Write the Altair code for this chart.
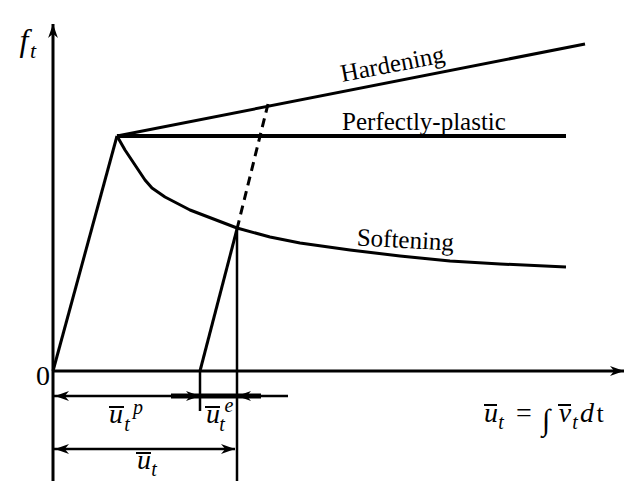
import altair as alt
import pandas as pd

# ---- curve data (schematic coordinates, image-like units) ----
elastic_x = [53, 117]
elastic_y = [371, 136]
plastic_x = [117, 566]
plastic_y = [136, 136]
hard_x = [117, 585]
hard_y = [136, 44]
soft_x = [117, 125, 135, 145, 152, 165, 190, 237, 270, 300, 350, 400, 450, 500, 566]
soft_y = [136, 150, 165, 180, 188, 197, 210, 228, 237, 243, 250, 256, 261, 264, 267]
unload_x = [200, 237]
unload_y = [371, 229]
dash_x = [237, 268]
dash_y = [229, 104]

# axes and dimension lines: (x1, y1, x2, y2)
axis_segs = [(53, 24, 53, 489), (53, 371, 624, 371)]
thin_segs = [(237, 229, 237, 489), (200, 371, 200, 411), (53, 396, 288, 396), (53, 449, 235, 449)]
thick_segs = [(171, 396, 261, 396)]
overbars = [(109, 407, 124, 407), (205, 407, 220, 407), (136, 453, 151, 453),
            (484, 405, 497, 405), (558, 405, 571, 405)]

# arrowheads: tip x, tip y, direction angle
arrow_x = [53, 624, 55, 200, 237, 55, 235]
arrow_y = [24, 371, 396, 396, 396, 449, 449]
arrow_a = [270, 0, 180, 0, 180, 180, 0]

# labels
norm_text = ["Hardening", "Perfectly-plastic", "Softening", "0", "=", "\u222b", "t"]
norm_x = [394, 424, 405, 43, 524, 546, 600]
norm_y = [72, 130, 248, 385, 422, 430, 422]
norm_size = [25, 25, 25, 28, 28, 30, 26]
norm_angle = [349, 0, 3, 0, 0, 0, 0]

ital_text = ["f", "t", "u", "t", "p", "u", "t", "e", "u", "t", "u", "t", "v", "t", "d"]
ital_x = [24, 33, 116, 127, 138, 213, 222, 229, 144, 154, 491, 501, 565, 575, 587]
ital_y = [51, 58, 423, 431, 414, 423, 431, 412, 469, 476, 422, 429, 422, 429, 422]
ital_size = [32, 22, 28, 20, 20, 28, 20, 20, 28, 20, 28, 20, 28, 20, 28]

XS = alt.Scale(domain=[8, 625])
YS = alt.Scale(domain=[8, 481], reverse=True)
FONT = "Liberation Serif"


def line_layer(xs, ys, width, dash=None):
    df = pd.DataFrame({"x": xs, "y": ys, "o": list(range(len(xs)))})
    kw = dict(color="black", strokeWidth=width, strokeCap="butt", strokeJoin="round")
    if dash:
        kw["strokeDash"] = dash
    return alt.Chart(df).mark_line(**kw).encode(
        x=alt.X("x:Q", scale=XS, axis=None),
        y=alt.Y("y:Q", scale=YS, axis=None),
        order="o:Q",
    )


def seg_layer(segs, width):
    df = pd.DataFrame(segs, columns=["x1", "y1", "x2", "y2"])
    return alt.Chart(df).mark_rule(color="black", strokeWidth=width, strokeCap="butt").encode(
        x=alt.X("x1:Q", scale=XS, axis=None),
        y=alt.Y("y1:Q", scale=YS, axis=None),
        x2="x2:Q",
        y2="y2:Q",
    )


def text_layer(texts, xs, ys, sizes, style, angles=None):
    df = pd.DataFrame({"t": texts, "x": xs, "y": ys, "s": sizes,
                       "a": angles if angles else [0] * len(texts)})
    return alt.Chart(df).mark_text(font=FONT, fontStyle=style, color="black",
                                   align="center", baseline="alphabetic").encode(
        x=alt.X("x:Q", scale=XS, axis=None),
        y=alt.Y("y:Q", scale=YS, axis=None),
        text="t:N",
        size=alt.Size("s:Q", scale=None),
        angle=alt.Angle("a:Q", scale=None),
    )


arrow_df = pd.DataFrame({"x": arrow_x, "y": arrow_y, "a": arrow_a})
arrows = alt.Chart(arrow_df).mark_point(
    shape="M0,0 L-2,-0.7 L-1.4,0 L-2,0.7 Z", filled=True, color="black", opacity=1, size=196
).encode(
    x=alt.X("x:Q", scale=XS, axis=None),
    y=alt.Y("y:Q", scale=YS, axis=None),
    angle=alt.Angle("a:Q", scale=None),
)

chart = alt.layer(
    seg_layer(axis_segs, 3),
    seg_layer(thin_segs, 2.5),
    seg_layer(thick_segs, 5),
    seg_layer(overbars, 2),
    line_layer(elastic_x, elastic_y, 3),
    line_layer(plastic_x, plastic_y, 4),
    line_layer(hard_x, hard_y, 3),
    line_layer(soft_x, soft_y, 3),
    line_layer(unload_x, unload_y, 3),
    line_layer(dash_x, dash_y, 3, dash=[9, 6]),
    arrows,
    text_layer(norm_text, norm_x, norm_y, norm_size, "normal", norm_angle),
    text_layer(ital_text, ital_x, ital_y, ital_size, "italic"),
).properties(
    width=617, height=473, padding=0, autosize=alt.AutoSizeParams(type="none"),
).configure_view(stroke=None)

chart.save("out.html", embed_options={"renderer": "svg", "actions": False})
